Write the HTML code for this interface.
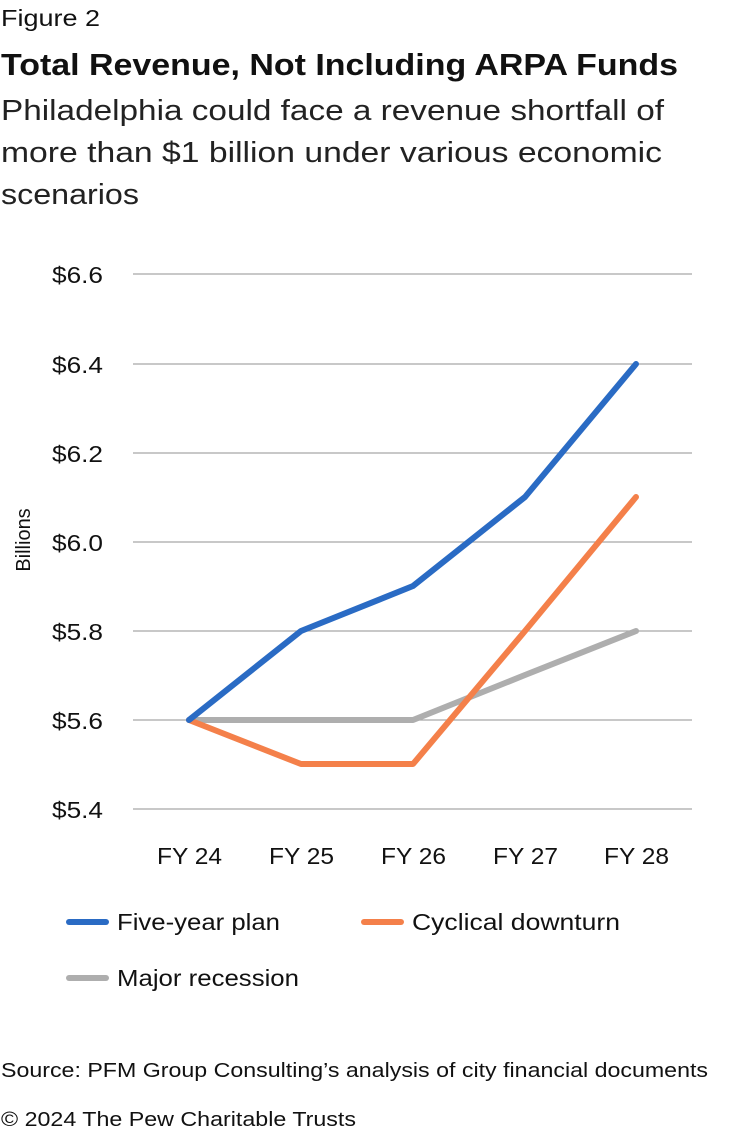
<!DOCTYPE html>
<html><head><meta charset="utf-8"><style>
html,body{margin:0;padding:0;background:#fff;}
svg{display:block;font-family:"Liberation Sans",sans-serif;}
</style></head><body>
<svg width="732" height="1134" viewBox="0 0 732 1134" xmlns="http://www.w3.org/2000/svg">
<text x="1" y="26" font-size="23" fill="#111" textLength="99" lengthAdjust="spacingAndGlyphs">Figure 2</text>
<text x="1" y="75" font-size="31" font-weight="bold" fill="#111" textLength="677" lengthAdjust="spacingAndGlyphs">Total Revenue, Not Including ARPA Funds</text>
<text x="1" y="120" font-size="29" fill="#222" textLength="663" lengthAdjust="spacingAndGlyphs">Philadelphia could face a revenue shortfall of</text>
<text x="1" y="162" font-size="29" fill="#222" textLength="661" lengthAdjust="spacingAndGlyphs">more than $1 billion under various economic</text>
<text x="1" y="204" font-size="29" fill="#222" textLength="138" lengthAdjust="spacingAndGlyphs">scenarios</text>
<g stroke="#a6a6a6" stroke-width="1.3">
<line x1="133" x2="692" y1="274" y2="274"/><line x1="133" x2="692" y1="364" y2="364"/>
<line x1="133" x2="692" y1="453" y2="453"/><line x1="133" x2="692" y1="542" y2="542"/>
<line x1="133" x2="692" y1="631" y2="631"/><line x1="133" x2="692" y1="720" y2="720"/>
<line x1="133" x2="692" y1="809" y2="809"/>
</g>
<g font-size="23" fill="#111">
<text x="52" y="283" textLength="51" lengthAdjust="spacingAndGlyphs">$6.6</text>
<text x="52" y="373" textLength="51" lengthAdjust="spacingAndGlyphs">$6.4</text>
<text x="52" y="462" textLength="51" lengthAdjust="spacingAndGlyphs">$6.2</text>
<text x="52" y="551" textLength="51" lengthAdjust="spacingAndGlyphs">$6.0</text>
<text x="52" y="640" textLength="51" lengthAdjust="spacingAndGlyphs">$5.8</text>
<text x="52" y="729" textLength="51" lengthAdjust="spacingAndGlyphs">$5.6</text>
<text x="52" y="818" textLength="51" lengthAdjust="spacingAndGlyphs">$5.4</text>
</g>
<text transform="translate(30,540) rotate(-90)" font-size="20" fill="#111" text-anchor="middle">Billions</text>
<g font-size="23" fill="#111">
<text x="157" y="864" textLength="65" lengthAdjust="spacingAndGlyphs">FY 24</text>
<text x="269" y="864" textLength="65" lengthAdjust="spacingAndGlyphs">FY 25</text>
<text x="381" y="864" textLength="65" lengthAdjust="spacingAndGlyphs">FY 26</text>
<text x="493" y="864" textLength="65" lengthAdjust="spacingAndGlyphs">FY 27</text>
<text x="604" y="864" textLength="65" lengthAdjust="spacingAndGlyphs">FY 28</text>
</g>
<g fill="none" stroke-width="6" stroke-linejoin="round" stroke-linecap="round">
<polyline stroke="#aeaeae" points="189,720 301,720 413,720 525,675 636,631"/>
<polyline stroke="#f4804a" points="189,720 301,764 413,764 525,631 636,497"/>
<polyline stroke="#2a6bc4" points="189,720 301,631 413,586 525,497 636,364"/>
</g>
<g stroke-width="6" stroke-linecap="round">
<line x1="69" x2="106" y1="922" y2="922" stroke="#2a6bc4"/>
<line x1="364" x2="401" y1="922" y2="922" stroke="#f4804a"/>
<line x1="69" x2="106" y1="978" y2="978" stroke="#aeaeae"/>
</g>
<g font-size="23" fill="#111">
<text x="117" y="930" textLength="163" lengthAdjust="spacingAndGlyphs">Five-year plan</text>
<text x="412" y="930" textLength="208" lengthAdjust="spacingAndGlyphs">Cyclical downturn</text>
<text x="117" y="986" textLength="182" lengthAdjust="spacingAndGlyphs">Major recession</text>
</g>
<text x="1" y="1077" font-size="20" fill="#111" textLength="707" lengthAdjust="spacingAndGlyphs">Source: PFM Group Consulting’s analysis of city financial documents</text>
<text x="1" y="1126" font-size="20" fill="#111" textLength="355" lengthAdjust="spacingAndGlyphs">© 2024 The Pew Charitable Trusts</text>
</svg>
</body></html>
